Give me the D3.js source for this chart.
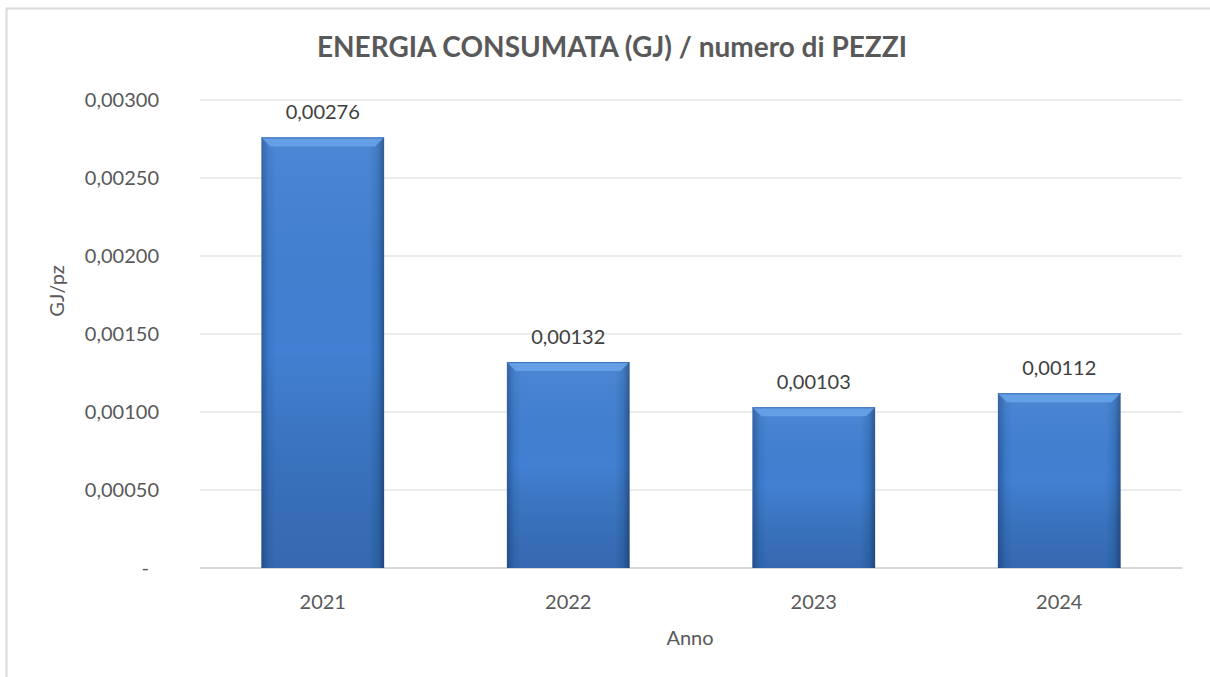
<!DOCTYPE html>
<html>
<head>
<meta charset="utf-8">
<script src="https://cdn.jsdelivr.net/npm/d3@7"></script>
<style>
  body { margin: 0; background: #fff; }
  svg { display: block; font-family: Lato, "Open Sans", sans-serif; }
</style>
</head>
<body>
<div id="chart"></div>
<script>
var years = ["2021", "2022", "2023", "2024"];
var values = [0.00276, 0.00132, 0.00103, 0.00112];
var yTicks = [0, 0.0005, 0.001, 0.0015, 0.002, 0.0025, 0.003];

var width = 1210, height = 677;
var margin = {left: 200, right: 28, top: 100, bottom: 109};

var svg = d3.select("#chart").append("svg")
  .attr("width", width)
  .attr("height", height);

// chart frame
svg.append("rect")
  .attr("x", 6.5).attr("y", 8.5)
  .attr("width", 1220).attr("height", 700)
  .attr("fill", "none")
  .attr("stroke", "#d9d9d9")
  .attr("stroke-width", 2);

var defs = svg.append("defs");
var gH = defs.append("linearGradient").attr("id", "barH")
  .attr("x1", "0").attr("x2", "1").attr("y1", "0").attr("y2", "0");
gH.append("stop").attr("offset", "0%").attr("stop-color", "#2c5c9e");
gH.append("stop").attr("offset", "6%").attr("stop-color", "#3b78c8");
gH.append("stop").attr("offset", "12%").attr("stop-color", "#4180d2");
gH.append("stop").attr("offset", "88%").attr("stop-color", "#4180d2");
gH.append("stop").attr("offset", "95%").attr("stop-color", "#3672bc");
gH.append("stop").attr("offset", "100%").attr("stop-color", "#27528e");

var gV = defs.append("linearGradient").attr("id", "barV")
  .attr("x1", "0").attr("x2", "0").attr("y1", "0").attr("y2", "1");
gV.append("stop").attr("offset", "0%").attr("stop-color", "#ffffff").attr("stop-opacity", 0.06);
gV.append("stop").attr("offset", "50%").attr("stop-color", "#000000").attr("stop-opacity", 0);
gV.append("stop").attr("offset", "100%").attr("stop-color", "#0a2550").attr("stop-opacity", 0.25);

var x = d3.scaleBand()
  .domain(years)
  .range([margin.left, width - margin.right])
  .paddingInner(0.5)
  .paddingOuter(0.25);

var y = d3.scaleLinear()
  .domain([0, 0.003])
  .range([height - margin.bottom, margin.top]);

var fmt = function(v) {
  if (v === 0) return "-";
  return d3.format(".5f")(v).replace(".", ",");
};

// gridlines
svg.append("g")
  .selectAll("line")
  .data(yTicks)
  .enter()
  .append("line")
    .attr("x1", margin.left)
    .attr("x2", width - margin.right)
    .attr("y1", function(d) { return y(d); })
    .attr("y2", function(d) { return y(d); })
    .attr("stroke", "#d9d9d9")
    .attr("stroke-width", function(d) { return d === 0 ? 2 : 1; });

// y tick labels
svg.append("g")
  .selectAll("text")
  .data(yTicks)
  .enter()
  .append("text")
    .attr("x", function(d) { return d === 0 ? 149 : 159; })
    .attr("y", function(d) { return y(d); })
    .attr("dy", "0.35em")
    .attr("text-anchor", "end")
    .attr("fill", "#595959")
    .attr("font-size", 20)
    .text(fmt);

var data = years.map(function(yr, i) { return {year: yr, value: values[i]}; });

var bars = svg.append("g").selectAll("g")
  .data(data)
  .enter()
  .append("g");

bars.append("rect")
  .attr("x", function(d) { return x(d.year); })
  .attr("y", function(d) { return y(d.value); })
  .attr("width", x.bandwidth())
  .attr("height", function(d) { return y(0) - y(d.value); })
  .attr("fill", "url(#barH)");

bars.append("rect")
  .attr("x", function(d) { return x(d.year); })
  .attr("y", function(d) { return y(d.value); })
  .attr("width", x.bandwidth())
  .attr("height", function(d) { return y(0) - y(d.value); })
  .attr("fill", "url(#barV)");

// top bevel
bars.append("path")
  .attr("d", function(d) {
    var x0 = x(d.year), x1 = x0 + x.bandwidth(), t = y(d.value), b = 9;
    return "M" + x0 + "," + t + "L" + x1 + "," + t + "L" + (x1 - b) + "," + (t + b) +
      "L" + (x0 + b) + "," + (t + b) + "Z";
  })
  .attr("fill", "#6aa5ea")
  .attr("opacity", 0.85);

bars.append("line")
  .attr("x1", function(d) { return x(d.year); })
  .attr("x2", function(d) { return x(d.year) + x.bandwidth(); })
  .attr("y1", function(d) { return y(d.value) + 0.5; })
  .attr("y2", function(d) { return y(d.value) + 0.5; })
  .attr("stroke", "#3a70b8")
  .attr("stroke-width", 1);

// value labels
bars.append("text")
  .attr("x", function(d) { return x(d.year) + x.bandwidth() / 2; })
  .attr("y", function(d) { return y(d.value) - 25; })
  .attr("dy", "0.35em")
  .attr("text-anchor", "middle")
  .attr("fill", "#404040")
  .attr("font-size", 20)
  .text(function(d) { return fmt(d.value); });

// x labels
svg.append("g")
  .selectAll("text")
  .data(years)
  .enter()
  .append("text")
    .attr("x", function(d) { return x(d) + x.bandwidth() / 2; })
    .attr("y", 602)
    .attr("dy", "0.35em")
    .attr("text-anchor", "middle")
    .attr("fill", "#595959")
    .attr("font-size", 20)
    .text(function(d) { return d; });

// axis titles
svg.append("text")
  .attr("x", 690).attr("y", 638)
  .attr("dy", "0.35em")
  .attr("text-anchor", "middle")
  .attr("fill", "#595959")
  .attr("font-size", 20)
  .text("Anno");

svg.append("text")
  .attr("transform", "translate(57,291) rotate(-90)")
  .attr("dy", "0.35em")
  .attr("text-anchor", "middle")
  .attr("fill", "#595959")
  .attr("font-size", 20)
  .text("GJ/pz");

svg.append("text")
  .attr("x", 612).attr("y", 47)
  .attr("dy", "0.35em")
  .attr("text-anchor", "middle")
  .attr("fill", "#595959")
  .attr("font-size", 28)
  .attr("font-weight", "bold")
  .text("ENERGIA CONSUMATA (GJ) / numero di PEZZI");
</script>
</body>
</html>
